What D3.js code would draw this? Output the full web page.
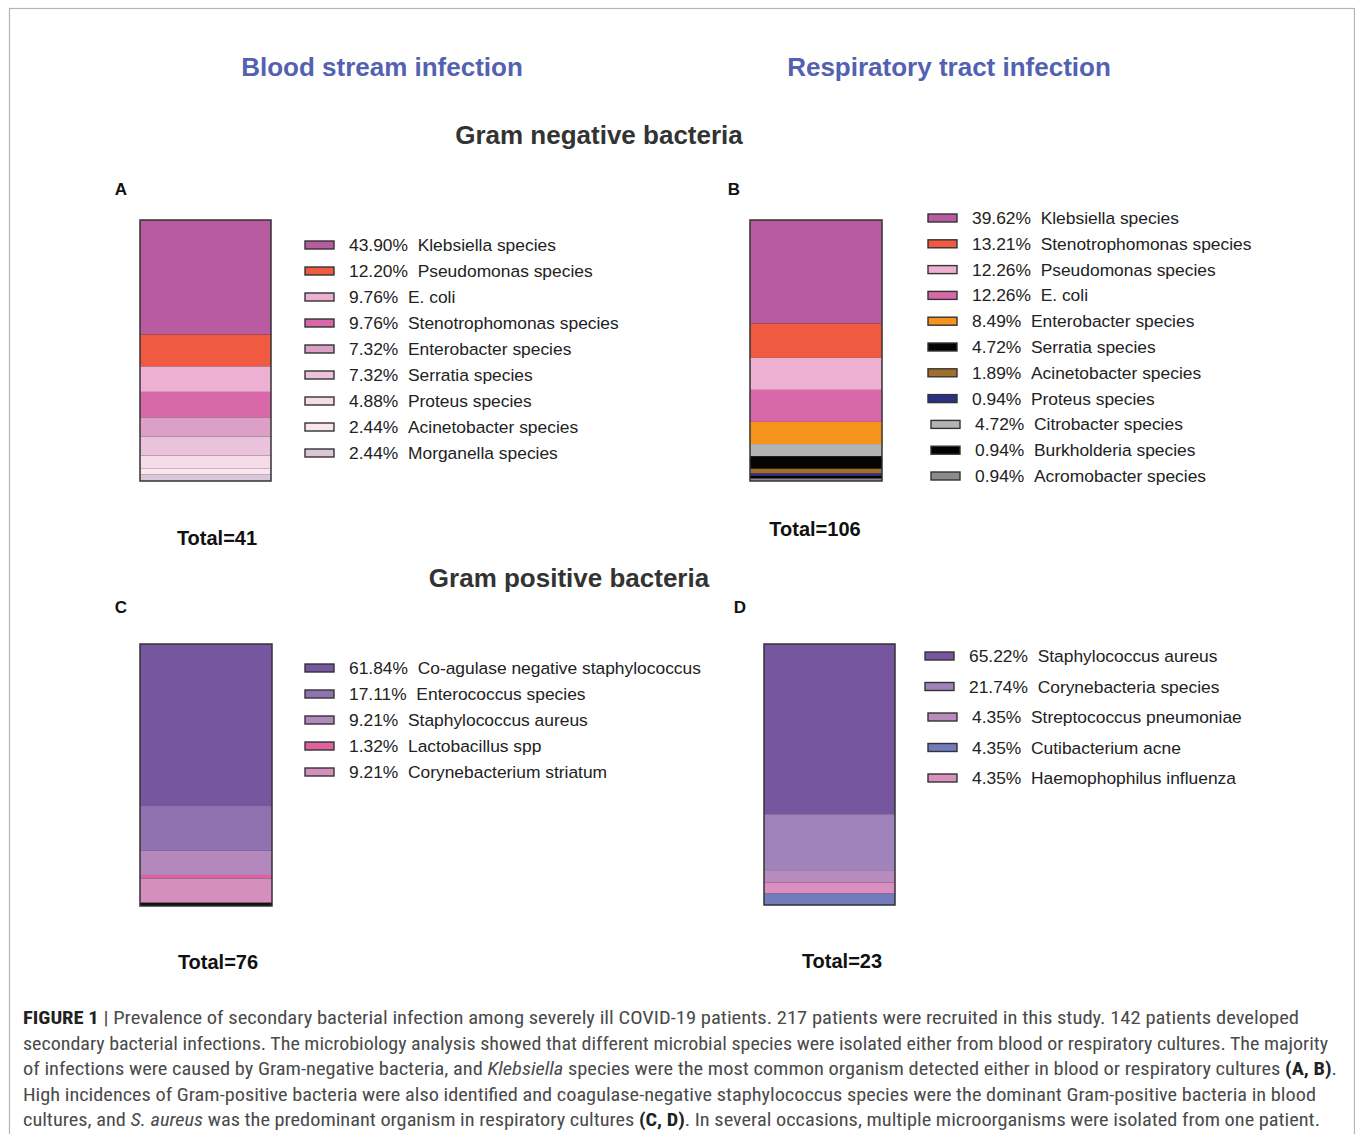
<!DOCTYPE html>
<html>
<head>
<meta charset="utf-8">
<script src="https://cdn.jsdelivr.net/npm/d3@7"></script>
<style>
  body { margin: 0; background: #fff; }
  svg { display: block; font-family: "Liberation Sans", Arial, Helvetica, sans-serif; }
</style>
</head>
<body>
<svg></svg>
<script>
const w = 1355
const h = 1134

// panel A - blood, gram negative
const namesA = ['Klebsiella species', 'Pseudomonas species', 'E. coli', 'Stenotrophomonas species',
  'Enterobacter species', 'Serratia species', 'Proteus species', 'Acinetobacter species', 'Morganella species']
const pctA = [43.90, 12.20, 9.76, 9.76, 7.32, 7.32, 4.88, 2.44, 2.44]
const colorsA = ['#b95ba1', '#f05a40', '#edb0d2', '#d968a8', '#dca0c7', '#ebc2dc', '#f6dbe8', '#f9e6ef', '#dcc6da']
const orderA = [0, 1, 2, 3, 4, 5, 6, 7, 8]
const totalA = 41

// panel B - respiratory, gram negative
const namesB = ['Klebsiella species', 'Stenotrophomonas species', 'Pseudomonas species', 'E. coli',
  'Enterobacter species', 'Serratia species', 'Acinetobacter species', 'Proteus species',
  'Citrobacter species', 'Burkholderia species', 'Acromobacter species']
const pctB = [39.62, 13.21, 12.26, 12.26, 8.49, 4.72, 1.89, 0.94, 4.72, 0.94, 0.94]
const colorsB = ['#b95ba1', '#f05a40', '#edb0d2', '#d968a8', '#f7941d', '#050505', '#a0702a', '#2b2f86',
  '#b3b3b3', '#000000', '#8c8c8c']
const orderB = [0, 1, 2, 3, 4, 8, 5, 6, 7, 9, 10] // stacking order in the bar
const totalB = 106

// panel C - blood, gram positive
const namesC = ['Co-agulase negative staphylococcus', 'Enterococcus species', 'Staphylococcus aureus',
  'Lactobacillus spp', 'Corynebacterium striatum']
const pctC = [61.84, 17.11, 9.21, 1.32, 9.21]
const colorsC = ['#7756a0', '#9072b0', '#b388bd', '#e060a0', '#d58fbe']
const orderC = [0, 1, 2, 3, 4]
const totalC = 76

// panel D - respiratory, gram positive
const namesD = ['Staphylococcus aureus', 'Corynebacteria species', 'Streptococcus pneumoniae',
  'Cutibacterium acne', 'Haemophophilus influenza']
const pctD = [65.22, 21.74, 4.35, 4.35, 4.35]
const colorsD = ['#7756a0', '#a083bb', '#b88abd', '#727bbb', '#d98fbf']
const orderD = [0, 1, 2, 4, 3]
const totalD = 23

const svg = d3.select('svg')
  .attr('width', w)
  .attr('height', h);

// outer frame
svg.append('rect')
  .attr('x', 9.5).attr('y', 8.5)
  .attr('width', 1345).attr('height', 1140)
  .attr('fill', 'none')
  .attr('stroke', '#b4b4b4')
  .attr('stroke-width', 1.2);

const heading = (txt, x, y, size, color) =>
  svg.append('text')
    .attr('x', x).attr('y', y)
    .attr('text-anchor', 'middle')
    .attr('font-size', size)
    .attr('font-weight', 'bold')
    .attr('fill', color)
    .text(txt);

heading('Blood stream infection', 382, 76, 26, '#5362b0');
heading('Respiratory tract infection', 949, 76, 26, '#5362b0');
heading('Gram negative bacteria', 599, 144, 26, '#333');
heading('Gram positive bacteria', 569, 587, 26, '#333');

const panels = [
  {id: 'A', names: namesA, pct: pctA, colors: colorsA, order: orderA, total: totalA,
    bx: [140, 271], by: [220, 481], lx: 305, ly: [245, 453], shift: [], letter: [121, 195], tot: [217, 545]},
  {id: 'B', names: namesB, pct: pctB, colors: colorsB, order: orderB, total: totalB,
    bx: [750, 882], by: [220, 481], lx: 928, ly: [218, 476], shift: [8, 9, 10], letter: [734, 195], tot: [815, 536]},
  {id: 'C', names: namesC, pct: pctC, colors: colorsC, order: orderC, total: totalC,
    bx: [140, 272], by: [644, 906], lx: 305, ly: [668, 772], shift: [], letter: [121, 613], tot: [218, 969]},
  {id: 'D', names: namesD, pct: pctD, colors: colorsD, order: orderD, total: totalD,
    bx: [764, 895], by: [644, 905], lx: 925, ly: [656, 778], shift: [2, 3, 4], letter: [740, 613], tot: [842, 968]}
];

panels.forEach(p => {
  const g = svg.append('g');

  const yScale = d3.scaleLinear()
    .domain([0, 100])
    .range(p.by);

  // stack the segments in bar order
  const ordered = p.order.map(i => ({name: p.names[i], v: p.pct[i], c: p.colors[i]}));
  const ends = d3.cumsum(ordered, d => d.v);
  ordered.forEach((d, i) => { d.y1 = ends[i]; d.y0 = ends[i] - d.v; });

  // dark backing shows any unlabelled remainder
  g.append('rect')
    .attr('x', p.bx[0]).attr('y', p.by[0])
    .attr('width', p.bx[1] - p.bx[0])
    .attr('height', p.by[1] - p.by[0])
    .attr('fill', '#111');

  g.selectAll('rect.seg').data(ordered)
    .enter().append('rect')
    .attr('class', 'seg')
    .attr('x', p.bx[0])
    .attr('width', p.bx[1] - p.bx[0])
    .attr('y', d => yScale(d.y0))
    .attr('height', d => Math.max(0, yScale(Math.min(d.y1, 100)) - yScale(d.y0)))
    .attr('fill', d => d.c);

  g.append('rect')
    .attr('x', p.bx[0]).attr('y', p.by[0])
    .attr('width', p.bx[1] - p.bx[0])
    .attr('height', p.by[1] - p.by[0])
    .attr('fill', 'none')
    .attr('stroke', '#333')
    .attr('stroke-width', 1.5);

  // legend
  const rowY = d3.scalePoint()
    .domain(d3.range(p.names.length))
    .range(p.ly);

  const leg = g.selectAll('g.row').data(p.names)
    .enter().append('g')
    .attr('transform', (d, i) => `translate(${p.lx + (p.shift.includes(i) ? 3 : 0)}, ${rowY(i)})`);

  leg.append('rect')
    .attr('x', 0).attr('y', -4)
    .attr('width', 29).attr('height', 8)
    .attr('fill', (d, i) => p.colors[i])
    .attr('stroke', '#333')
    .attr('stroke-width', 1.4);

  leg.append('text')
    .attr('x', 44).attr('y', 6)
    .attr('font-size', 17.4)
    .attr('fill', '#222')
    .text((d, i) => `${p.pct[i].toFixed(2)}%\u00a0\u00a0${d}`);

  svg.append('text')
    .attr('x', p.letter[0]).attr('y', p.letter[1])
    .attr('text-anchor', 'middle')
    .attr('font-size', 17)
    .attr('font-weight', 'bold')
    .attr('fill', '#111')
    .text(p.id);

  svg.append('text')
    .attr('x', p.tot[0]).attr('y', p.tot[1])
    .attr('text-anchor', 'middle')
    .attr('font-size', 20)
    .attr('font-weight', 'bold')
    .attr('fill', '#111')
    .text(`Total=${p.total}`);
});

// caption, one entry per line: [text, style]
const caption = [
  [['FIGURE 1', 'b'], [' | Prevalence of secondary bacterial infection among severely ill COVID-19 patients. 217 patients were recruited in this study. 142 patients developed', '']],
  [['secondary bacterial infections. The microbiology analysis showed that different microbial species were isolated either from blood or respiratory cultures. The majority', '']],
  [['of infections were caused by Gram-negative bacteria, and ', ''], ['Klebsiella', 'i'], [' species were the most common organism detected either in blood or respiratory cultures ', ''], ['(A, B)', 'b'], ['.', '']],
  [['High incidences of Gram-positive bacteria were also identified and coagulase-negative staphylococcus species were the dominant Gram-positive bacteria in blood', '']],
  [['cultures, and ', ''], ['S. aureus', 'i'], [' was the predominant organism in respiratory cultures ', ''], ['(C, D)', 'b'], ['. In several occasions, multiple microorganisms were isolated from one patient.', '']]
];
const captionEnds = [1299, 1328, 1337, 1316, 1320];

const capY = d3.scalePoint().domain(d3.range(caption.length)).range([1024, 1126]);

caption.forEach((line, i) => {
  const t = svg.append('text')
    .attr('x', 23).attr('y', capY(i))
    .attr('font-family', '"Liberation Sans Narrow", "Roboto Condensed", "Liberation Sans", Arial, sans-serif')
    .attr('font-size', 18)
    .attr('fill', '#4a4a4a')
    .attr('textLength', captionEnds[i] - 23)
    .attr('lengthAdjust', 'spacingAndGlyphs')
    .style('white-space', 'pre');
  line.forEach(([s, st]) => {
    t.append('tspan')
      .attr('font-weight', st === 'b' ? 'bold' : null)
      .attr('font-style', st === 'i' ? 'italic' : null)
      .attr('fill', st === 'b' ? '#222' : null)
      .text(s);
  });
});
</script>
</body>
</html>
